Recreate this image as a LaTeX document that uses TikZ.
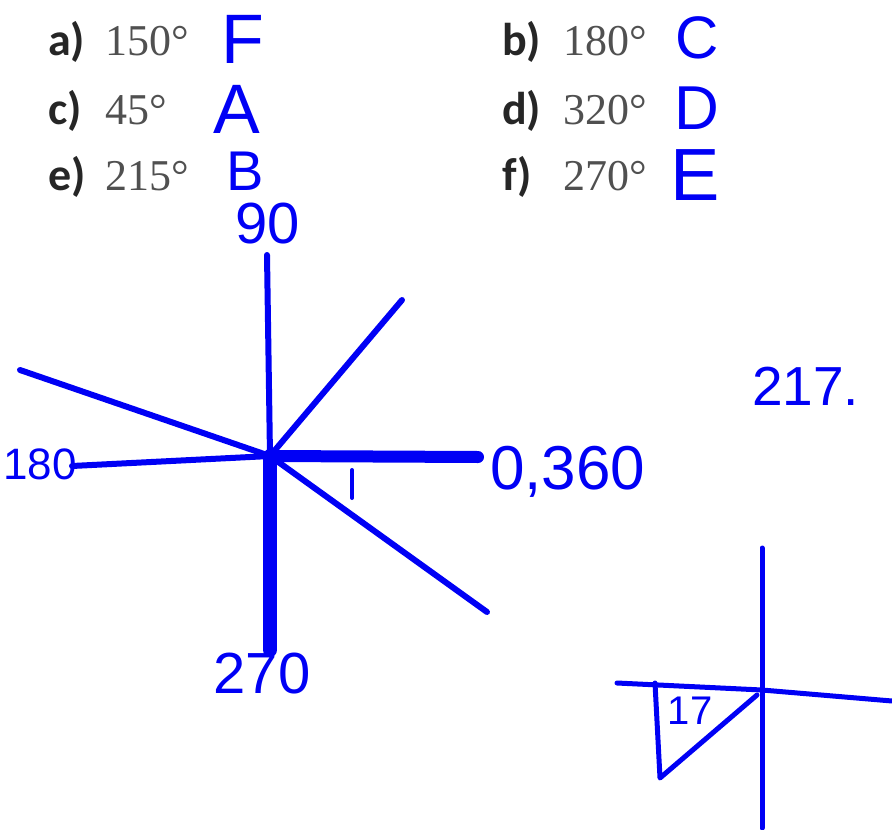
\documentclass[tikz,border=0pt]{standalone}
\usepackage{fontspec}
\setmainfont{Liberation Serif}
\newfontfamily\labelfont{Carlito}
\newfontfamily\handfont{Liberation Sans}
\usepackage{tikz}
\usetikzlibrary{positioning}
\definecolor{ink}{RGB}{0,0,245}
\definecolor{printgray}{RGB}{80,80,80}

\begin{document}
\begin{tikzpicture}[
    x=1pt, y=-1pt,
    itemlbl/.style={font=\labelfont\bfseries\fontsize{46}{46}\selectfont, text=black!85, inner sep=0pt, anchor=base west},
    degval/.style={font=\fontsize{44}{44}\selectfont, text=printgray, inner sep=0pt, anchor=base west},
    answer/.style={font=\handfont\fontsize{#1}{#1}\selectfont, text=ink, inner sep=0pt},
    pen/.style={draw=ink, line width=#1, line cap=round, line join=round},
    pen/.default=6pt
]
\useasboundingbox (0,0) rectangle (892,830);
% exercise list
\node[itemlbl] (la) at (48,55) {a)};
\node[degval] (va) at (105,55) {150°};
\node[itemlbl] (lc) at (48,124) {c)};
\node[degval] (vc) at (105,124) {45°};
\node[itemlbl] (le) at (48,190) {e)};
\node[degval] (ve) at (105,190) {215°};
\node[itemlbl] (lb) at (502,55) {b)};
\node[degval] (vb) at (563,55) {180°};
\node[itemlbl] (ld) at (502,124) {d)};
\node[degval] (vd) at (563,124) {320°};
\node[itemlbl] (lf) at (502,190) {f)};
\node[degval] (vf) at (563,190) {270°};
% handwritten answers
\node[answer=70] (ansa) at (243,39) {F};
\node[answer=70] (ansc) at (237,109) {A};
\node[answer=56] (anse) at (245,171) {B};
\node[answer=60] (ansb) at (697,38) {C};
\node[answer=62] (ansd) at (697,108) {D};
\node[answer=74] (ansf) at (695,175) {E};
% axes
\coordinate (O) at (270,456);
\coordinate (N) at (267,255);
\coordinate (S) at (270,650);
\coordinate (W) at (72,466);
\coordinate (E) at (478,457);
\coordinate (NE) at (402,300);
\coordinate (NW) at (20,370);
\coordinate (SE) at (487,612);
\coordinate (tk1) at (352,470);
\coordinate (tk2) at (352,498);
\draw[pen] (O) -- (N);
\draw[pen=14pt] (O) -- (S);
\draw[pen] (O) -- (W);
\draw[pen=12pt] (O) -- (E);
\draw[pen] (O) -- (NE);
\draw[pen] (NW) -- (O);
\draw[pen] (O) -- (SE);
\draw[pen=4pt] (tk1) -- (tk2);
\node[answer=58] (d90) at (268,224) {90};
\node[answer=44] (d180) at (40,464) {180};
\node[answer=62, anchor=base west] (d0) at (490,489) {0,360};
\node[answer=58] (d270) at (262,674) {270};
% second sketch
\node[answer=55, anchor=base west] (r217) at (752,405) {217.};
\coordinate (Q) at (762,690);
\coordinate (Qn) at (762,548);
\coordinate (Qs) at (762,828);
\coordinate (Qw) at (617,683);
\coordinate (Qe) at (892,701);
\coordinate (T1) at (655,683);
\coordinate (T2) at (660,778);
\coordinate (T3) at (757,695);
\draw[pen=5pt] (Qn) -- (Qs);
\draw[pen=5pt] (Qw) -- (Q) -- (Qe);
\draw[pen=5pt] (T1) -- (T2) -- (T3);
\node[answer=40] (r17) at (690,711) {17};
\end{tikzpicture}
\end{document}
